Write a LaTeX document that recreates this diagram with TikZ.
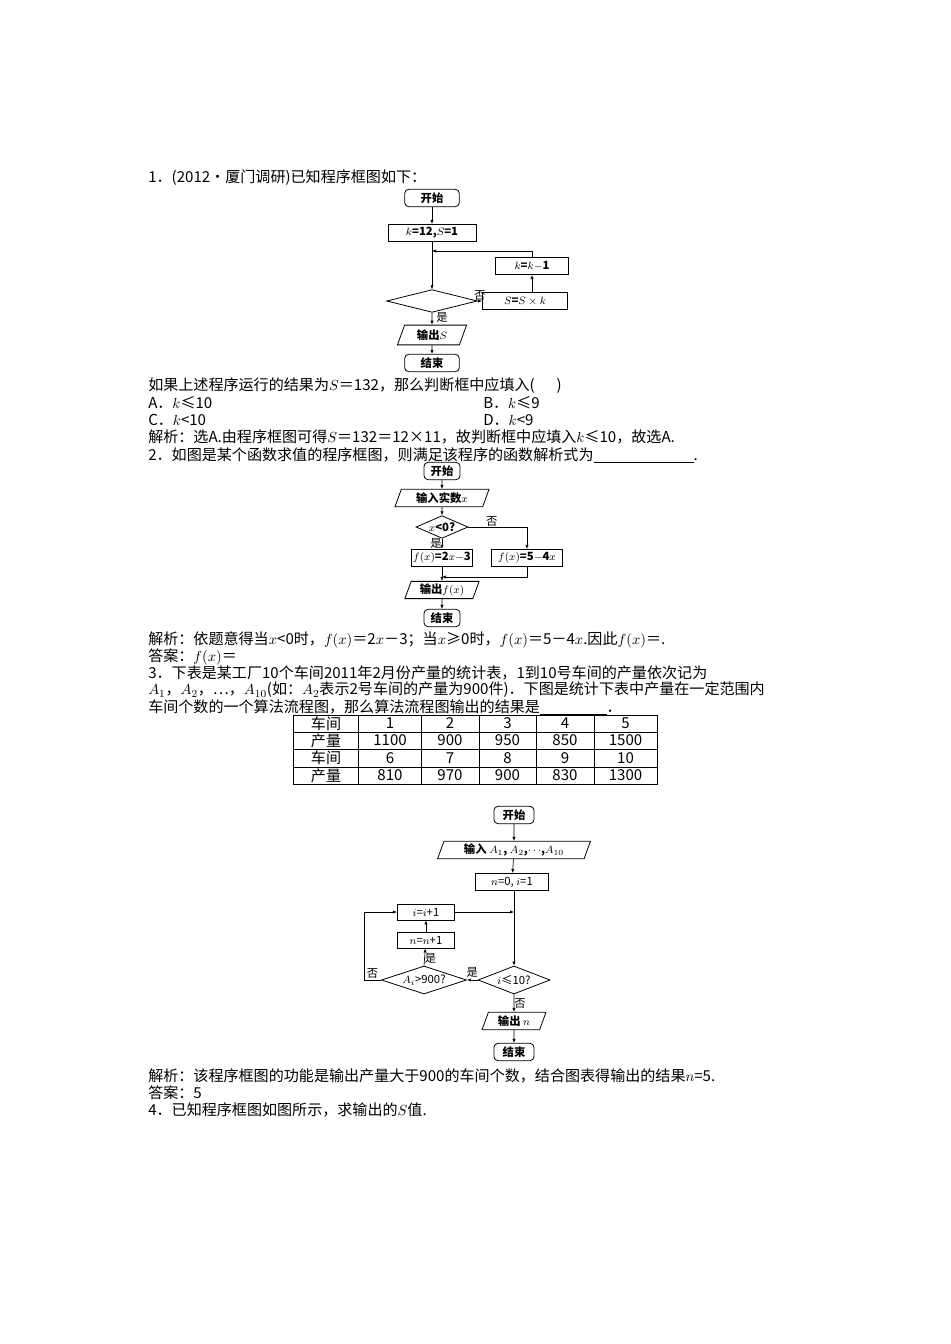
\documentclass[tikz,border=0pt]{standalone}
\usepackage{fontspec}
\setmainfont{Noto Sans CJK SC}
\usetikzlibrary{shapes.geometric,arrows.meta}
\begin{document}
\begin{tikzpicture}[x=0.75pt,y=-0.75pt,
  txt/.style={anchor=west,inner sep=0pt,font=\fontsize{11.3}{13}\selectfont},
  fc/.style={font=\fontsize{8.5}{10}\selectfont\bfseries,inner sep=0pt},
  term/.style={fc,draw,rounded corners=3pt,minimum height=13pt,line width=0.6pt},
  proc/.style={fc,draw,minimum height=13pt,line width=0.6pt},
  io/.style={fc,draw,trapezium,trapezium left angle=70,trapezium right angle=110,minimum height=13pt,line width=0.6pt},
  dec/.style={fc,draw,diamond,aspect=3.5,inner sep=0.5pt,line width=0.6pt},
  ar/.style={-{Latex[length=3pt,width=2.5pt]},line width=0.5pt},
  ln/.style={line width=0.5pt},
  lab/.style={fc,font=\fontsize{8.5}{10}\selectfont}]
\useasboundingbox[fill=white] (0,0) rectangle (950,1344);
% text
\node[txt] (t1) at (148,178) {1．(2012·厦门调研)已知程序框图如下：};
\node[txt] (t2) at (148,386) {如果上述程序运行的结果为$S$＝132，那么判断框中应填入(\quad\ \ )};
\node[txt] (t3) at (148,403) {A．$k$≤10};
\node[txt] (t3b) at (483,403) {B．$k$≤9};
\node[txt] (t4) at (148,420) {C．$k$<10};
\node[txt] (t4b) at (483,420) {D．$k$<9};
\node[txt] (t5) at (148,437) {解析：选A.由程序框图可得$S$＝132＝12×11，故判断框中应填入$k$≤10，故选A.};
\node[txt] (t6) at (148,455) {2．如图是某个函数求值的程序框图，则满足该程序的函数解析式为\underline{\hspace{75pt}}.};
\node[txt] (t7) at (148,640) {解析：依题意得当$x$<0时，$f(x)$＝2$x$－3；当$x$≥0时，$f(x)$＝5－4$x$.因此$f(x)$＝.};
\node[txt] (t8) at (148,657) {答案：$f(x)$＝};
\node[txt] (t9) at (148,673) {3．下表是某工厂10个车间2011年2月份产量的统计表，1到10号车间的产量依次记为};
\node[txt] (t10) at (148,690) {$A_1$，$A_2$，…，$A_{10}$(如：$A_2$表示2号车间的产量为900件)．下图是统计下表中产量在一定范围内};
\node[txt] (t11) at (148,707) {车间个数的一个算法流程图，那么算法流程图输出的结果是\underline{\hspace{50pt}}．};
\node[txt] (t12) at (148,1076) {解析：该程序框图的功能是输出产量大于900的车间个数，结合图表得输出的结果$n$=5.};
\node[txt] (t13) at (148,1093) {答案：5};
\node[txt] (t14) at (148,1110) {4．已知程序框图如图所示，求输出的$S$值.};
% table
\draw[line width=0.6pt] (293,715) rectangle (657,784);
\foreach \y in {732,749,767} \draw[line width=0.5pt] (293,\y)--(657,\y);
\foreach \x in {358,421,479,536,594} \draw[line width=0.5pt] (\x,715)--(\x,784);
\foreach \r/\y in {0/723.5,1/740.5,2/758,3/775.5}{}
\node[txt,anchor=center] (c00) at (326,723.5) {车间};
\node[txt,anchor=center] (c10) at (326,740.5) {产量};
\node[txt,anchor=center] (c20) at (326,758) {车间};
\node[txt,anchor=center] (c30) at (326,775.5) {产量};
\foreach \x/\a/\b/\c/\d in {390/1/1100/6/810,450/2/900/7/970,507.5/3/950/8/900,565/4/850/9/830,625.5/5/1500/10/1300}{
  \node[txt,anchor=center] at (\x,723.5) {\a};
  \node[txt,anchor=center] at (\x,740.5) {\b};
  \node[txt,anchor=center] at (\x,758) {\c};
  \node[txt,anchor=center] at (\x,775.5) {\d};}
% flowchart 1
\node[term,minimum width=41pt] (a1) at (432,198) {开始};
\node[proc,minimum width=66pt] (a2) at (432,233) {$k$=12,$S$=1};
\node[proc,minimum width=55pt] (a3) at (532,266) {$k$=$k$$-$1};
\node[dec,minimum width=68pt,minimum height=17pt] (a4) at (432,301) {};
\node[proc,minimum width=64pt] (a5) at (525,301) {$S$=$S\times k$};
\node[io,minimum width=52pt] (a6) at (432,335) {输出$S$};
\node[term,minimum width=41pt] (a7) at (432,363) {结束};
\coordinate (a8) at (432,251);
\draw[ar] (a1)--(a2);
\draw[ar] (a2)--(a4);
\draw[ar] (a4)--(a5) node[lab,pos=0.5,above] {否};
\draw[ar] (a5.north-|a3)--(a3);
\draw[ar] (a3.north)|-(a8);
\draw[ar] (a4)--(a6) node[lab,pos=0.4,right=3pt] {是};
\draw[ar] (a6)--(a7);
% flowchart 2
\node[term,minimum width=27pt] (b1) at (442,471) {开始};
\node[io,minimum width=60pt] (b2) at (442,498) {输入实数$x$};
\node[dec,minimum width=39pt,minimum height=17pt,aspect=2.3] (b3) at (442,527) {$x$<0?};
\node[proc,minimum width=46pt] (b4) at (442,558) {$f(x)$=2$x$$-$3};
\node[proc,minimum width=53pt] (b5) at (527,558) {$f(x)$=5$-$4$x$};
\node[io,minimum width=56pt] (b6) at (442,590) {输出$f(x)$};
\node[term,minimum width=27pt] (b7) at (442,618) {结束};
\coordinate (b8) at (442,577);
\draw[ar] (b1)--(b2);
\draw[ar] (b2)--(b3);
\draw[ar] (b3.east)-|(b5.north) node[lab,pos=0.2,above] {否};
\draw[ar] (b3)--(b4) node[lab,pos=0.5,left] {是};
\draw[ar] (b5.south)|-(b8);
\draw[ar] (b4)--(b6);
\draw[ar] (b6)--(b7);
% flowchart 3
\node[term,minimum width=30pt] (c1) at (514,815) {开始};
\node[io,minimum width=100pt,font=\fontsize{8.5}{10}\selectfont] (c2) at (514,850) {\bfseries 输入 $A_1$, $A_2$,$\cdots$,$A_{10}$};
\node[proc,minimum width=55pt,font=\fontsize{8.5}{10}\selectfont] (c3) at (512,882) {$n$=0, $i$=1};
\node[proc,minimum width=43pt,minimum height=12pt,font=\fontsize{8.5}{10}\selectfont] (c4) at (426,912) {$i$=$i$+1};
\node[proc,minimum width=43pt,minimum height=12pt,font=\fontsize{8.5}{10}\selectfont] (c5) at (426,940) {$n$=$n$+1};
\node[dec,minimum width=54pt,minimum height=21pt,font=\fontsize{8.5}{10}\selectfont] (c6) at (424,980) {$A_i$>900?};
\node[dec,minimum width=54pt,minimum height=21pt,font=\fontsize{8.5}{10}\selectfont] (c7) at (514,980) {$i$≤10?};
\node[io,minimum width=40pt] (c8) at (514,1021) {输出 $n$};
\node[term,minimum width=30pt] (c9) at (514,1052) {结束};
\coordinate (c10) at (514,912);
\coordinate (c11) at (364,980);
\draw[ar] (c1)--(c2);
\draw[ar] (c2)--(c3);
\draw[ar] (c3.south-|c10)--(c7.north);
\draw[ar] (c4)--(c10);
\draw[ar] (c7)--(c6) node[lab,pos=0.5,above=2pt] {是};
\draw[ar] (c6.north)--(c5) node[lab,pos=0.4,right] {是};
\draw[ar] (c5)--(c4);
\draw[ln] (c6.west)--(c11) node[lab,pos=0.5,above=1pt] {否};
\draw[ar] (c11)|-(c4.west);
\draw[ar] (c7)--(c8) node[lab,pos=0.5,right] {否};
\draw[ar] (c8)--(c9);
\end{tikzpicture}
\end{document}
